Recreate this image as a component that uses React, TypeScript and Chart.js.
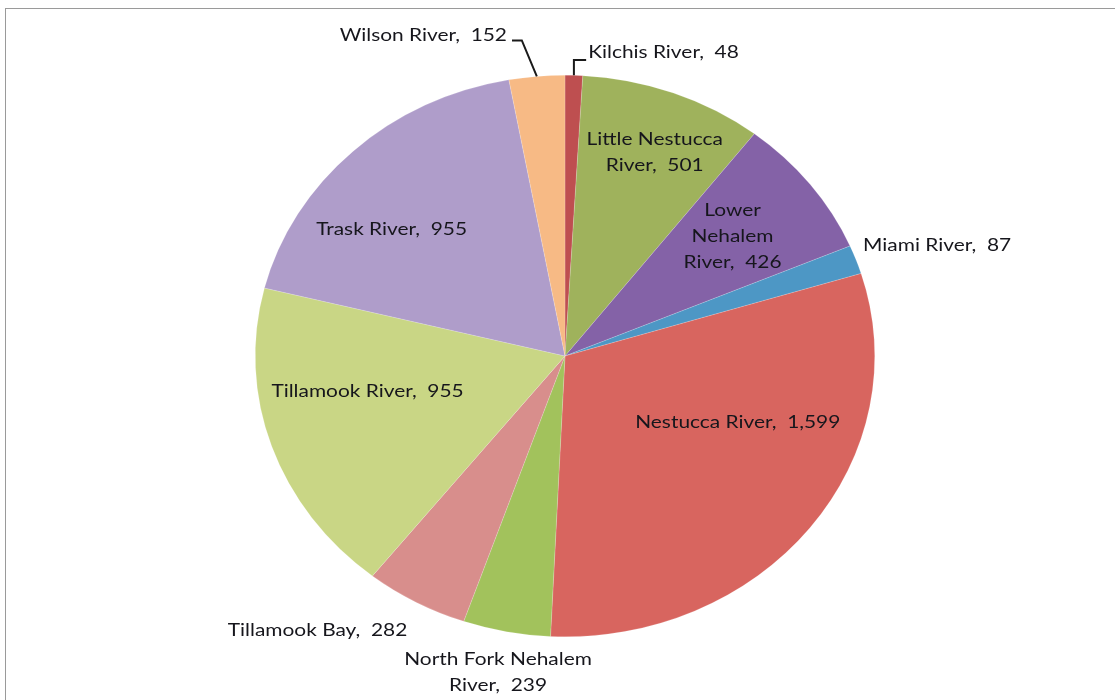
import React, { useEffect, useRef } from "react";
import { Chart, registerables } from "chart.js";

Chart.register(...registerables);

const categories = [
  "Kilchis River",
  "Little Nestucca River",
  "Lower Nehalem River",
  "Miami River",
  "Nestucca River",
  "North Fork Nehalem River",
  "Tillamook Bay",
  "Tillamook River",
  "Trask River",
  "Wilson River",
];

const values = [48, 501, 426, 87, 1599, 239, 282, 955, 955, 152];

// label line breaks as shown in the chart
const labelLines = [
  ["Kilchis River,  48"],
  ["Little Nestucca", "River,  501"],
  ["Lower", "Nehalem", "River,  426"],
  ["Miami River,  87"],
  ["Nestucca River,  1,599"],
  ["North Fork Nehalem", "River,  239"],
  ["Tillamook Bay,  282"],
  ["Tillamook River,  955"],
  ["Trask River,  955"],
  ["Wilson River,  152"],
];

const colors = [
  "#BE4F50",
  "#9FB25C",
  "#8462A7",
  "#4D97C5",
  "#D8655F",
  "#A2C25C",
  "#D88E8C",
  "#C9D685",
  "#AF9DCA",
  "#F7BA85",
];

// label placement: angle offset (deg, from slice mid) and radius factor, alignment
const labelPlace = [
  { dAng: 2.3, r: 1.085, align: "left", leader: { kx: 0, dy: 8, gap: 2 } },
  { dAng: 1.3, r: 0.78, align: "center" },
  { dAng: -0.7, r: 0.69, align: "center" },
  { dAng: -2.2, r: 1.04, align: "left" },
  { dAng: -15, r: 0.605, align: "center" },
  { dAng: 0, r: 1.145, align: "center" },
  { dAng: -1.2, r: 1.1, align: "right" },
  { dAng: 7.5, r: 0.65, align: "center" },
  { dAng: -7.8, r: 0.72, align: "center" },
  { dAng: -4.1, r: 1.157, align: "right", leader: { kx: -15, dy: 5, gap: 5 } },
];

const Y_SQUASH = 281 / 310;
const FONT = "18px Lato, 'Open Sans', sans-serif";
const TEXT_SX = 1.16;
const LINE_H = 26;

const ellipsePlugin = {
  id: "ellipse",
  beforeDatasetsDraw(chart: any) {
    const arc = chart.getDatasetMeta(0).data[0];
    const ctx = chart.ctx;
    ctx.save();
    ctx.translate(arc.x, arc.y);
    ctx.scale(1, Y_SQUASH);
    ctx.translate(-arc.x, -arc.y);
  },
  afterDatasetsDraw(chart: any) {
    chart.ctx.restore();
  },
};

const labelPlugin = {
  id: "pieLabels",
  afterDraw(chart: any) {
    const ctx = chart.ctx;
    const meta = chart.getDatasetMeta(0);
    ctx.save();
    ctx.font = FONT;
    ctx.fillStyle = "#16161c";
    ctx.textBaseline = "middle";
    meta.data.forEach((arc: any, i: number) => {
      const cx = arc.x;
      const cy = arc.y;
      const rx = arc.outerRadius;
      const ry = arc.outerRadius * Y_SQUASH;
      const mid = (arc.startAngle + arc.endAngle) / 2;
      const p = labelPlace[i];
      const a = mid + (p.dAng * Math.PI) / 180;
      const ax = cx + p.r * rx * Math.cos(a);
      const ay = cy + p.r * ry * Math.sin(a);
      const lines = labelLines[i];
      const n = lines.length;
      ctx.textAlign = p.align;
      lines.forEach((t: string, k: number) => {
        ctx.save();
        ctx.translate(ax, ay + (k - (n - 1) / 2) * LINE_H);
        ctx.scale(TEXT_SX, 1);
        ctx.fillText(t, 0, 0);
        ctx.restore();
      });
      if (p.leader) {
        const ex = cx + rx * Math.cos(mid);
        const ey = cy + ry * Math.sin(mid);
        const ly = ay + p.leader.dy;
        const tx = p.align === "left" ? ax - p.leader.gap : ax + p.leader.gap;
        const bendX = ex + p.leader.kx;
        ctx.strokeStyle = "#1a1a1a";
        ctx.lineWidth = 2;
        ctx.beginPath();
        ctx.moveTo(ex, ey);
        ctx.lineTo(bendX, ly);
        ctx.lineTo(tx, ly);
        ctx.stroke();
      }
    });
    ctx.restore();
  },
};

export default function App() {
  const ref = useRef<HTMLCanvasElement | null>(null);
  useEffect(() => {
    if (!ref.current) return;
    const chart = new Chart(ref.current, {
      type: "pie",
      data: {
        labels: categories,
        datasets: [
          {
            data: values,
            backgroundColor: colors,
            borderColor: "rgba(255,255,255,0.35)",
            borderWidth: 0.5,
          },
        ],
      },
      options: {
        animation: false,
        responsive: false,
        maintainAspectRatio: false,
        layout: { padding: { left: 255, right: 240, top: 46, bottom: 34 } },
        plugins: {
          legend: { display: false },
          tooltip: { enabled: false },
          title: { display: false },
        },
      },
      plugins: [ellipsePlugin, labelPlugin],
    });
    return () => chart.destroy();
  }, []);
  return (
    <div
      style={{
        position: "absolute",
        left: 0,
        top: 0,
        width: 1115,
        height: 700,
        background: "#fff",
        overflow: "hidden",
      }}
    >
      <div
        style={{
          position: "absolute",
          left: 5,
          top: 8,
          width: 1120,
          height: 700,
          border: "1.5px solid #9a9a9a",
          boxSizing: "border-box",
        }}
      />
      <canvas
        ref={ref}
        width={1115}
        height={700}
        style={{ position: "absolute", left: 0, top: 0, width: 1115, height: 700 }}
      />
    </div>
  );
}
